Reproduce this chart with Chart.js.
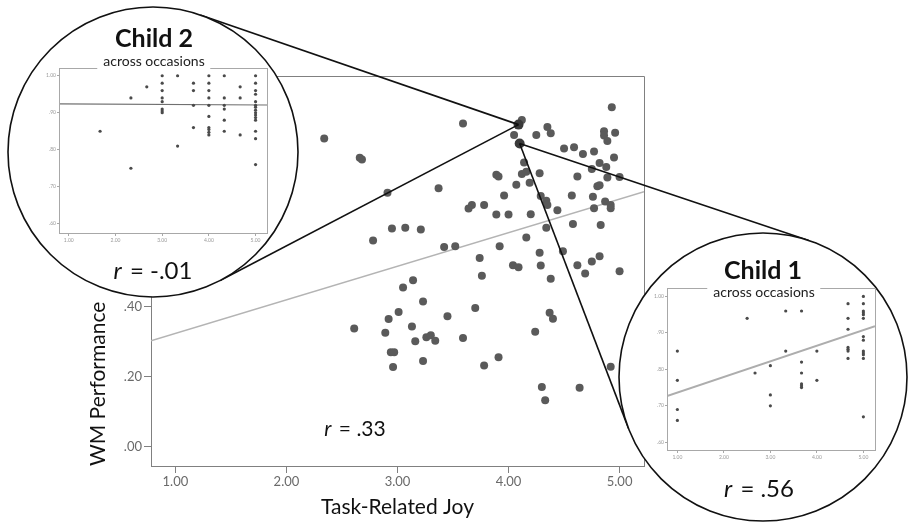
<!DOCTYPE html>
<html>
<head>
<meta charset="utf-8">
<script src="https://cdn.jsdelivr.net/npm/chart.js@4.4.1/dist/chart.umd.min.js"></script>
<style>
    body { margin: 0; background: #fff; }
    #wrap { position: relative; width: 908px; height: 524px; overflow: hidden; font-family: Lato, sans-serif; }
    canvas { position: absolute; }
    .lbl { position: absolute; transform: translate(-50%, -50%); white-space: nowrap; line-height: 1; color: #111; }
    .child { font-size: 25px; font-weight: 700; }
    .occ { font-size: 14px; background: #fff; padding: 1px 6px; color: #222; }
    .rval { font-size: 24px; }
    .rval i { margin-right: 2px; }
</style>
</head>
<body>
<div id="wrap">
    <canvas id="main" width="908" height="524" style="left:0;top:0"></canvas>
    <canvas id="child2" width="300" height="300" style="left:0;top:0"></canvas>
    <canvas id="child1" width="300" height="300" style="left:608px;top:222px"></canvas>

    <div class="lbl child" style="left:154px;top:37px">Child 2</div>
    <div class="lbl occ" style="left:154px;top:61px">across occasions</div>
    <div class="lbl rval" style="left:153px;top:270px"><i>r</i> = -.01</div>

    <div class="lbl child" style="left:763px;top:269px">Child 1</div>
    <div class="lbl occ" style="left:764px;top:292px">across occasions</div>
    <div class="lbl rval" style="left:759px;top:488px"><i>r</i> = .56</div>

    <div class="lbl rval" style="left:355px;top:427px;font-size:21px"><i>r</i> = .33</div>
</div>
<script>
// Between-person scatter: mean joy vs mean WM performance per child
const joy = [
    2.61, 2.89, 2.92, 3.01, 3.05, 3.14, 3.13, 3.16, 3.23, 3.26, 3.30, 3.34, 3.45, 3.59,
    2.94, 2.97, 2.96, 3.23, 3.70, 3.78, 3.91, 3.74, 3.76, 4.04, 4.09, 4.28, 4.29, 4.38,
    4.24, 4.37, 4.40, 4.30, 4.33, 4.49, 4.62, 4.69, 4.75, 4.82, 5.00, 4.92, 4.64,
    2.91, 3.37, 3.64, 3.67, 2.95, 3.07, 3.21, 2.78, 3.42, 3.52,
    2.34, 2.66, 2.68, 3.59, 4.12, 4.05, 4.25, 4.35, 4.38, 4.93, 4.86, 4.86, 4.96, 4.89,
    4.50, 4.59, 4.67, 4.77, 4.95, 4.82, 4.88, 4.75, 5.00, 4.89, 4.62, 4.14, 4.12, 4.16,
    4.28, 4.19, 4.07, 3.89, 3.91, 3.96, 4.29, 4.34, 4.35, 4.44, 4.57, 4.76, 4.80, 4.82,
    4.87, 4.92, 4.92, 4.77, 4.83, 4.58, 4.34, 4.20, 4.00, 3.89, 3.78, 3.92, 4.16
];
const wm = [
    .338, .326, .365, .385, .455, .476, .344, .302, .415, .313, .319, .303, .373, .311,
    .270, .270, .228, .245, .397, .232, .256, .540, .489, .519, .513, .555, .518, .480,
    .329, .383, .366, .171, .133, .559, .519, .495, .530, .545, .502, .229, .169,
    .726, .739, .681, .691, .624, .626, .621, .590, .571, .573,
    .881, .826, .821, .924, .934, .891, .891, .914, .896, .971, .902, .890, .898, .874,
    .853, .856, .837, .844, .827, .811, .800, .794, .771, .770, .773, .813, .780, .786,
    .782, .755, .749, .778, .773, .718, .717, .703, .691, .676, .718, .715, .745, .748,
    .701, .691, .682, .682, .634, .637, .626, .665, .664, .664, .691, .573, .598
];
// the two children shown in the circles: [Child 2, Child 1]
const highlightJoy = [4.09, 4.10];
const highlightWm = [0.921, 0.867];
const fitJoy = [0.78, 5.22];
const fitWm = [0.303, 0.729];
const xTicks = [1, 2, 3, 4, 5];
const yTicks = [0, 0.2, 0.4, 0.6, 0.8, 1.0];

// Child 2 across occasions
const c2Joy = [
    1.67, 2.33, 2.33, 2.67,
    3.00, 3.00, 3.00, 3.00, 3.00, 3.00, 3.00, 3.00,
    3.33, 3.33, 3.67, 3.67, 3.67, 3.67,
    4.00, 4.00, 4.00, 4.00, 4.00, 4.00, 4.00, 4.00, 4.00, 4.00,
    4.33, 4.33, 4.33, 4.33, 4.33, 4.33, 4.67, 4.67, 4.67,
    5.00, 5.00, 5.00, 5.00, 5.00, 5.00, 5.00, 5.00, 5.00, 5.00, 5.00, 5.00, 5.00, 5.00, 5.00
];
const c2Wm = [
    .85, .94, .75, .97,
    1.00, .98, .96, .94, .93, .91, .905, .90,
    1.00, .81, .98, .96, .92, .86,
    1.00, .98, .96, .94, .92, .89, .86, .855, .847, .84,
    1.00, .94, .92, .91, .88, .85, .97, .94, .84,
    1.00, .98, .96, .95, .93, .92, .915, .907, .90, .894, .887, .88, .85, .83, .76
];
const c2FitJoy = [0.79, 5.245];
const c2FitWm = [0.924, 0.921];

// Child 1 across occasions
const c1Joy = [
    1.00, 1.00, 1.00, 1.00, 2.50, 2.67, 3.00, 3.00, 3.00, 3.33, 3.33,
    3.67, 3.67, 3.67, 3.67, 3.67, 3.67, 4.00, 4.00,
    4.67, 4.67, 4.67, 4.67, 4.67, 4.67, 4.67,
    5.00, 5.00, 5.00, 5.00, 5.00, 5.00, 5.00, 5.00, 5.00, 5.00, 5.00, 5.00, 5.00
];
const c1Wm = [
    .85, .77, .69, .66, .94, .79, .81, .73, .70, .96, .85,
    .96, .82, .79, .76, .755, .75, .85, .77,
    .98, .94, .91, .86, .855, .85, .83,
    1.00, .98, .96, .955, .95, .94, .89, .88, .85, .845, .84, .83, .67
];
const c1FitJoy = [0.777, 5.25];
const c1FitWm = [0.727, 0.918];
const miniXTicks = [1, 2, 3, 4, 5];
const miniYTicks = [0.6, 0.7, 0.8, 0.9, 1.0];

const pts = (xs, ys) => xs.map((x, i) => ({ x, y: ys[i] }));
const fmt2 = v => v.toFixed(2).replace(/^0\./, '.');
const tickList = arr => scale => { scale.ticks = arr.map(v => ({ value: v })); };

// zoom circles: [Child 2, Child 1]
const zoomCircles = [
    { cx: 153, cy: 152, r: 145 },
    { cx: 763, cy: 377, r: 144 }
];

function tangentPoints(px, py, c) {
    const d = Math.hypot(px - c.cx, py - c.cy);
    const a = Math.atan2(py - c.cy, px - c.cx);
    const b = Math.acos(c.r / d);
    return [a - b, a + b].map(t => [c.cx + c.r * Math.cos(t), c.cy + c.r * Math.sin(t)]);
}

const mainOverlay = {
    id: 'mainOverlay',
    afterDraw(chart) {
        const { ctx, chartArea: a, scales: { x, y } } = chart;
        ctx.save();
        // top and right sides of the box
        ctx.strokeStyle = '#808080';
        ctx.lineWidth = 1;
        ctx.beginPath();
        ctx.moveTo(a.left, a.top + 0.5);
        ctx.lineTo(a.right + 0.5, a.top + 0.5);
        ctx.lineTo(a.right + 0.5, a.bottom);
        ctx.stroke();

        // connectors from the highlighted children to their circles
        ctx.strokeStyle = '#111';
        ctx.lineWidth = 1.6;
        zoomCircles.forEach((c, i) => {
            const px = x.getPixelForValue(highlightJoy[i]);
            const py = y.getPixelForValue(highlightWm[i]);
            tangentPoints(px, py, c).forEach(([tx, ty]) => {
                ctx.beginPath();
                ctx.moveTo(px, py);
                ctx.lineTo(tx, ty);
                ctx.stroke();
            });
        });

        zoomCircles.forEach(c => {
            ctx.beginPath();
            ctx.arc(c.cx, c.cy, c.r, 0, Math.PI * 2);
            ctx.fillStyle = '#fff';
            ctx.fill();
            ctx.stroke();
        });
        ctx.restore();
    }
};

const miniFrame = {
    id: 'miniFrame',
    afterDraw(chart) {
        const { ctx, chartArea: a } = chart;
        ctx.save();
        ctx.strokeStyle = '#a8a8a8';
        ctx.lineWidth = 1;
        ctx.strokeRect(Math.round(a.left) + 0.5, Math.round(a.top) + 0.5,
            Math.round(a.right - a.left), Math.round(a.bottom - a.top));
        ctx.restore();
    }
};

function drawMain() {
    new Chart(document.getElementById('main'), {
        type: 'scatter',
        data: {
            datasets: [
                {
                    data: pts(joy, wm),
                    backgroundColor: '#5a5a5a',
                    borderWidth: 0,
                    pointRadius: 4,
                    order: 2
                },
                {
                    data: pts(highlightJoy, highlightWm),
                    backgroundColor: '#3a3a3a',
                    borderWidth: 0,
                    pointRadius: 5,
                    order: 1
                },
                {
                    type: 'line',
                    data: pts(fitJoy, fitWm),
                    borderColor: '#b4b4b4',
                    borderWidth: 1.6,
                    pointRadius: 0,
                    order: 3
                }
            ]
        },
        options: {
            responsive: false,
            animation: false,
            devicePixelRatio: 1,
            layout: { padding: { left: 0, top: 76, right: 264, bottom: 0 } },
            plugins: { legend: { display: false }, tooltip: { enabled: false } },
            scales: {
                x: {
                    type: 'linear',
                    min: 0.78,
                    max: 5.22,
                    afterBuildTicks: tickList(xTicks),
                    afterFit: s => { s.height = 58; },
                    border: { display: true, color: '#808080', width: 1 },
                    grid: { drawOnChartArea: false, drawTicks: true, tickLength: 7, color: '#808080' },
                    ticks: {
                        color: '#6a6a6a',
                        padding: 1,
                        maxRotation: 0,
                        font: { family: 'Lato', size: 13 },
                        callback: v => v.toFixed(2)
                    },
                    title: {
                        display: true,
                        text: 'Task-Related Joy',
                        color: '#111',
                        font: { family: 'Lato', size: 21 },
                        padding: { top: 0, bottom: 4 }
                    }
                },
                y: {
                    type: 'linear',
                    min: -0.055,
                    max: 1.06,
                    afterBuildTicks: tickList(yTicks),
                    afterFit: s => { s.width = 151; },
                    border: { display: true, color: '#808080', width: 1 },
                    grid: { drawOnChartArea: false, drawTicks: true, tickLength: 7, color: '#808080' },
                    ticks: {
                        color: '#6a6a6a',
                        padding: 2,
                        font: { family: 'Lato', size: 13 },
                        callback: v => fmt2(v)
                    },
                    title: {
                        display: true,
                        text: 'WM Performance',
                        align: 'start',
                        color: '#111',
                        font: { family: 'Lato', size: 21 },
                        padding: { top: 86, bottom: 0 }
                    }
                }
            }
        },
        plugins: [mainOverlay]
    });
}

function drawMini(id, xs, ys, fx, fy, cfg) {
    new Chart(document.getElementById(id), {
        type: 'scatter',
        data: {
            datasets: [
                {
                    data: pts(xs, ys),
                    backgroundColor: '#4a4a4a',
                    borderWidth: 0,
                    pointRadius: 1.6,
                    order: 1
                },
                {
                    type: 'line',
                    data: pts(fx, fy),
                    borderColor: cfg.lineColor,
                    borderWidth: cfg.lineWidth,
                    pointRadius: 0,
                    order: 2
                }
            ]
        },
        options: {
            responsive: false,
            animation: false,
            devicePixelRatio: 1,
            layout: { padding: { left: 0, top: cfg.top, right: cfg.right, bottom: 0 } },
            plugins: { legend: { display: false }, tooltip: { enabled: false } },
            scales: {
                x: {
                    type: 'linear',
                    min: cfg.xMin,
                    max: cfg.xMax,
                    afterBuildTicks: tickList(miniXTicks),
                    afterFit: s => { s.height = cfg.xHeight; },
                    border: { display: false },
                    grid: { drawOnChartArea: false, drawTicks: true, tickLength: 3, color: '#a8a8a8' },
                    ticks: {
                        color: '#999',
                        padding: 1,
                        maxRotation: 0,
                        font: { family: 'Lato', size: 5 },
                        callback: v => v.toFixed(2)
                    }
                },
                y: {
                    type: 'linear',
                    min: cfg.yMin,
                    max: cfg.yMax,
                    afterBuildTicks: tickList(miniYTicks),
                    afterFit: s => { s.width = cfg.yWidth; },
                    border: { display: false },
                    grid: { drawOnChartArea: false, drawTicks: true, tickLength: 2, color: '#a8a8a8' },
                    ticks: {
                        color: '#999',
                        padding: 1,
                        font: { family: 'Lato', size: 5 },
                        callback: v => fmt2(v)
                    }
                }
            }
        },
        plugins: [miniFrame]
    });
}

function drawAll() {
    drawMain();
    drawMini('child2', c2Joy, c2Wm, c2FitJoy, c2FitWm, {
        top: 68, right: 33, xHeight: 67, yWidth: 59,
        xMin: 0.79, xMax: 5.245, yMin: 0.575, yMax: 1.021,
        lineColor: '#707070', lineWidth: 1.2
    });
    drawMini('child1', c1Joy, c1Wm, c1FitJoy, c1FitWm, {
        top: 66, right: 33, xHeight: 72, yWidth: 59,
        xMin: 0.777, xMax: 5.25, yMin: 0.579, yMax: 1.023,
        lineColor: '#adadad', lineWidth: 2
    });
}

if (document.fonts && document.fonts.load) {
    Promise.all([
        document.fonts.load('20px Lato'),
        document.fonts.load('bold 24px Lato')
    ]).then(drawAll, drawAll);
} else {
    drawAll();
}
</script>
</body>
</html>
